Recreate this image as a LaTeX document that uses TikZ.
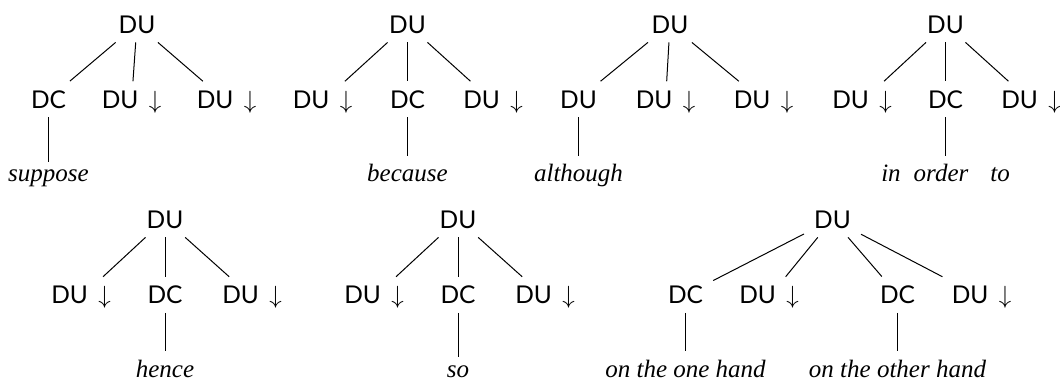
\documentclass[tikz,border=0pt]{standalone}
\usepackage{fontspec}
\setmainfont{Liberation Serif}
\setsansfont{Lato}
\usepackage{tikz}

\begin{document}
\begin{tikzpicture}[x=1pt, y=-1pt,
    dnode/.style={font=\sffamily\fontsize{24.5}{29}\selectfont, anchor=base, inner xsep=10pt, inner ysep=9pt},
    word/.style={font=\itshape\fontsize{25}{29}\selectfont, anchor=base, inner xsep=4pt, inner ysep=8pt},
    branch/.style={line width=1pt}]
    \useasboundingbox (0,0) rectangle (1060,383);

    \node[dnode] (s1) at (137,33) {DU};
    \node[dnode] (s1a) at (48.5,108) {DC};
    \node[dnode] (s1b) at (131.5,108) {DU~\,$\downarrow$};
    \node[dnode] (s1c) at (226.5,108) {DU~\,$\downarrow$};
    \node[word] (s1w) at (48.5,181.5) {suppose};
    \draw[branch] (s1) -- (s1a);
    \draw[branch] (s1) -- (s1b);
    \draw[branch] (s1) -- (s1c);
    \draw[branch] (s1a) -- (s1w);

    \node[dnode] (s2) at (407.5,33) {DU};
    \node[dnode] (s2a) at (322.5,108) {DU~\,$\downarrow$};
    \node[dnode] (s2b) at (407.5,108) {DC};
    \node[dnode] (s2c) at (493,108) {DU~\,$\downarrow$};
    \node[word] (s2w) at (407.5,181.5) {because};
    \draw[branch] (s2) -- (s2a);
    \draw[branch] (s2) -- (s2b);
    \draw[branch] (s2) -- (s2c);
    \draw[branch] (s2b) -- (s2w);

    \node[dnode] (s3) at (670,33) {DU};
    \node[dnode] (s3a) at (578.5,108) {DU};
    \node[dnode] (s3b) at (665.5,108) {DU~\,$\downarrow$};
    \node[dnode] (s3c) at (763.5,108) {DU~\,$\downarrow$};
    \node[word] (s3w) at (578.5,181.5) {although};
    \draw[branch] (s3) -- (s3a);
    \draw[branch] (s3) -- (s3b);
    \draw[branch] (s3) -- (s3c);
    \draw[branch] (s3a) -- (s3w);

    \node[dnode] (s4) at (945.5,33) {DU};
    \node[dnode] (s4a) at (862,108) {DU~\,$\downarrow$};
    \node[dnode] (s4b) at (945.5,108) {DC};
    \node[dnode] (s4c) at (1031,108) {DU~\,$\downarrow$};
    \node[word] (s4w) at (945.5,181.5) {in\hspace{13pt}order\hspace{22pt}to};
    \draw[branch] (s4) -- (s4a);
    \draw[branch] (s4) -- (s4b);
    \draw[branch] (s4) -- (s4c);
    \draw[branch] (s4b) -- (s4w);

    \node[dnode] (s5) at (165,228) {DU};
    \node[dnode] (s5a) at (81,303.5) {DU~\,$\downarrow$};
    \node[dnode] (s5b) at (165,303.5) {DC};
    \node[dnode] (s5c) at (252,303.5) {DU~\,$\downarrow$};
    \node[word] (s5w) at (165,377) {hence};
    \draw[branch] (s5) -- (s5a);
    \draw[branch] (s5) -- (s5b);
    \draw[branch] (s5) -- (s5c);
    \draw[branch] (s5b) -- (s5w);

    \node[dnode] (s6) at (458,228) {DU};
    \node[dnode] (s6a) at (374,303.5) {DU~\,$\downarrow$};
    \node[dnode] (s6b) at (458,303.5) {DC};
    \node[dnode] (s6c) at (545,303.5) {DU~\,$\downarrow$};
    \node[word] (s6w) at (458,377) {so};
    \draw[branch] (s6) -- (s6a);
    \draw[branch] (s6) -- (s6b);
    \draw[branch] (s6) -- (s6c);
    \draw[branch] (s6b) -- (s6w);

    \node[dnode] (s7) at (832.5,228) {DU};
    \node[dnode] (s7a) at (685.5,303.5) {DC};
    \node[dnode] (s7b) at (769,303.5) {DU~\,$\downarrow$};
    \node[dnode] (s7c) at (897.5,303.5) {DC};
    \node[dnode] (s7d) at (981.5,303.5) {DU~\,$\downarrow$};
    \node[word] (s7w) at (685.5,377) {on the one hand};
    \node[word] (s7v) at (897.5,377) {on the other hand};
    \draw[branch] (s7) -- (s7a);
    \draw[branch] (s7) -- (s7b);
    \draw[branch] (s7) -- (s7c);
    \draw[branch] (s7) -- (s7d);
    \draw[branch] (s7a) -- (s7w);
    \draw[branch] (s7c) -- (s7v);
\end{tikzpicture}
\end{document}
